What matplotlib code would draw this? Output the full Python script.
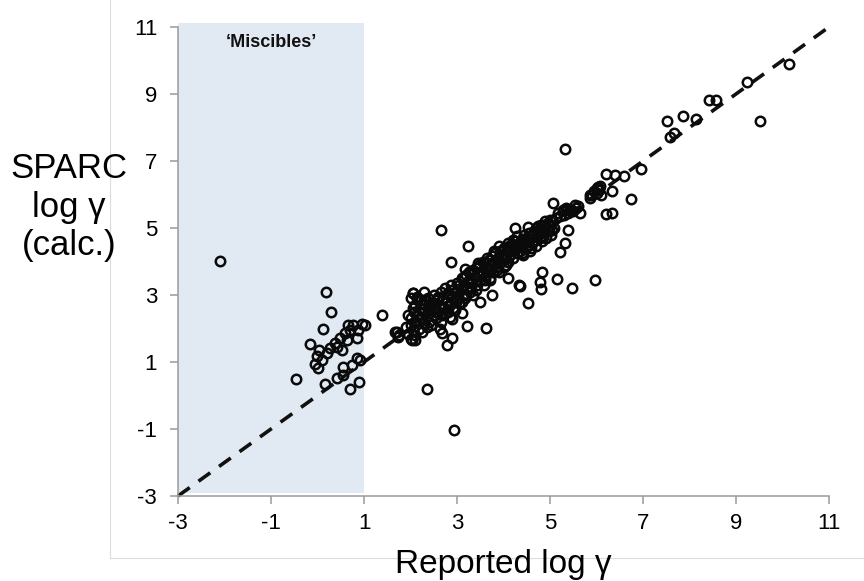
import numpy as np
import matplotlib.pyplot as plt
from matplotlib.patches import Rectangle
from matplotlib.lines import Line2D

plt.rcParams['font.family'] = ['Liberation Sans', 'DejaVu Sans']
plt.rcParams['axes.unicode_minus'] = False

# 'Miscibles' (reported log gamma <= 1)
misc_rep = [-2.10, -0.46, -0.16, -0.05, 0.02, 0.03, -0.02, 0.09, 0.18, 0.29, 0.125,
            0.16, 0.20, 0.27, 0.38, 0.41, 0.41, 0.48, 0.52, 0.55, 0.55, 0.59, 0.63,
            0.66, 0.70, 0.70, 0.735, 0.77, 0.84, 0.84, 0.88, 0.90, 0.91, 0.95, 1.02]
misc_calc = [4.01, 0.49, 1.53, 0.93, 0.81, 1.36, 1.18, 1.06, 3.08, 2.50, 1.98,
             0.33, 1.26, 1.41, 1.56, 0.53, 1.46, 1.71, 1.36, 0.61, 0.86, 1.86, 1.66,
             2.10, 1.96, 0.19, 0.91, 2.10, 1.11, 1.71, 1.96, 0.41, 1.06, 2.13, 2.10]

# dense band along the diagonal
band_rep = [1.38, 1.67, 1.74, 1.70, 1.75, 1.95, 2.00, 2.02, 2.05, 2.06, 2.08, 2.10, 2.12,
            2.13, 2.15, 2.18, 2.20, 2.22, 2.25, 2.28, 2.30, 2.32, 2.35, 2.38, 2.40,
            2.42, 2.45, 2.48, 2.50, 2.52, 2.55, 2.58, 2.60, 2.62, 2.65, 2.68, 2.70,
            2.72, 2.75, 2.78, 2.80, 2.82, 2.85, 2.88, 2.90, 2.92, 2.95, 2.98, 3.00,
            3.02, 3.05, 3.08, 3.10, 3.12, 3.15, 3.18, 3.20, 3.22, 3.25, 3.28, 3.30,
            3.32, 3.35, 3.38, 3.40, 3.42, 3.45, 3.48, 3.50, 3.55, 3.58, 3.60, 3.62,
            3.65, 3.68, 3.70, 3.72, 3.75, 3.78, 3.80, 3.82, 3.85, 3.88, 3.90, 3.92,
            3.95, 3.98, 4.00, 4.02, 4.05, 4.08, 4.10, 4.12, 4.15, 4.18, 4.20, 4.22,
            4.25, 4.28, 4.30, 4.35, 4.38, 4.40, 4.42, 4.45, 4.48, 4.50, 4.55, 4.58,
            4.60, 4.62, 4.65, 4.68, 4.70, 4.72, 4.75, 4.78, 4.80, 4.82, 4.85, 4.88,
            4.90, 4.92, 4.95, 4.98, 5.00, 5.02, 5.05, 5.08, 5.12, 5.18, 5.22, 5.28,
            5.30, 5.35, 5.38, 5.42, 5.50, 5.55, 5.60, 5.85, 5.90, 5.95, 6.00, 6.02,
            6.05, 6.08, 6.10]
band_calc = [2.40, 1.90, 1.76, 1.90, 1.80, 1.85, 2.10, 2.30, 1.95, 3.05, 2.50, 2.70, 2.20,
             2.90, 2.40, 2.00, 2.60, 2.85, 2.30, 2.15, 2.50, 2.70, 2.35, 2.90, 2.20,
             2.55, 2.75, 2.40, 3.00, 2.60, 2.30, 2.85, 2.50, 2.70, 3.10, 2.40, 2.90,
             2.60, 3.20, 2.80, 2.50, 3.00, 2.70, 3.30, 2.90, 2.60, 3.10, 2.80, 3.35,
             3.00, 2.75, 3.20, 3.50, 3.00, 3.30, 2.90, 3.60, 3.20, 3.45, 3.10, 3.70,
             3.35, 3.00, 3.55, 3.80, 3.30, 3.60, 3.90, 3.45, 3.70, 3.30, 3.95, 3.60,
             3.80, 4.05, 3.50, 3.90, 4.15, 3.70, 4.00, 4.25, 3.85, 4.10, 3.70, 4.30,
             4.00, 4.20, 3.85, 4.40, 4.10, 4.30, 4.00, 4.45, 4.20, 4.50, 4.10, 4.35,
             4.60, 4.25, 4.50, 4.30, 4.65, 4.45, 4.20, 4.55, 4.40, 4.70, 4.50, 4.30,
             4.75, 4.55, 4.90, 4.65, 4.45, 4.85, 5.05, 4.70, 4.95, 4.60, 5.10, 4.85,
             5.00, 4.70, 5.15, 4.90, 5.05, 4.80, 5.20, 5.00, 5.30, 5.45, 5.35, 5.55,
             5.40, 5.60, 5.45, 5.55, 5.50, 5.60, 5.65, 5.90, 6.00, 6.10, 6.05, 6.20,
             6.12, 6.25, 6.00]

# second row of the band (thickens it)
band2_rep = [1.90, 1.95, 2.00, 2.00, 2.05, 2.10, 2.10, 2.15, 2.20, 2.25, 2.30, 2.35,
             2.40, 2.45, 2.50, 2.55, 2.60, 2.65, 2.70, 2.75, 2.80, 2.85, 2.90, 2.95,
             3.00, 3.05, 3.10, 3.15, 3.20, 3.25, 3.30, 3.35, 3.40, 3.45, 3.50, 3.55,
             3.60, 3.65, 3.70, 3.75, 3.80, 3.85, 3.90, 3.95, 4.00, 4.05, 4.10, 4.15,
             4.20, 4.25, 4.30, 4.35, 4.40, 4.45, 4.50, 4.55, 4.60, 4.65, 4.70, 4.75,
             4.80, 4.85, 4.90, 4.95, 5.00, 5.05]
band2_calc = [2.05, 2.40, 1.70, 2.90, 2.60, 1.80, 1.65, 2.95, 2.30, 1.90, 2.85, 2.05,
              2.65, 2.10, 2.75, 2.50, 2.95, 2.20, 2.65, 2.45, 3.05, 2.35, 3.15, 2.55,
              2.90, 3.30, 2.80, 3.55, 3.00, 3.70, 3.25, 3.75, 3.15, 3.95, 3.65, 4.00,
              3.45, 4.10, 3.75, 3.95, 4.30, 3.75, 4.45, 4.15, 4.35, 3.90, 4.55, 4.35,
              4.65, 4.40, 4.75, 4.55, 4.25, 4.80, 4.60, 4.85, 4.40, 4.60, 5.00, 4.80,
              5.10, 4.75, 5.20, 4.95, 5.25, 4.95]

# scattered points off the band
off_rep = [2.06, 2.13, 2.28, 2.03, 2.35, 2.94, 2.78, 2.89, 2.63, 2.67, 2.89, 3.10,
           3.22, 3.62, 3.49, 3.76, 2.66, 3.24, 2.87, 3.17, 3.71, 4.10, 4.35, 4.34,
           4.53, 4.80, 4.78, 4.83, 5.14, 5.47, 5.97, 5.21, 5.32, 5.39, 4.25, 4.53,
           5.06, 5.36, 5.54, 5.65, 5.86, 6.20, 6.33, 6.34, 6.74, 6.04, 5.32, 6.20,
           6.40, 6.60, 6.96, 7.51, 7.58, 7.67, 7.85, 8.13, 8.42, 8.58, 9.24, 9.52,
           10.13]
off_calc = [3.05, 2.90, 3.10, 1.66, 0.19, -1.03, 1.51, 1.71, 2.00, 1.86, 2.27, 2.45,
            2.07, 2.02, 2.80, 3.00, 4.94, 4.46, 4.00, 3.77, 3.45, 3.50, 3.27, 3.30,
            2.75, 3.17, 3.40, 3.70, 3.48, 3.20, 3.45, 4.29, 4.56, 4.94, 4.99, 5.02,
            5.75, 5.54, 5.69, 5.45, 5.99, 5.42, 5.44, 6.10, 5.87, 6.21, 7.35, 6.61,
            6.58, 6.55, 6.75, 8.20, 7.71, 7.83, 8.35, 8.25, 8.82, 8.82, 9.35, 8.19,
            9.90]

reported = np.concatenate([misc_rep, band_rep, band2_rep, off_rep])
sparc = np.concatenate([misc_calc, band_calc, band2_calc, off_calc])

fig = plt.figure(figsize=(8.64, 5.81), dpi=100)
ax = fig.add_axes([178 / 864, 1 - 496 / 581, (829 - 178) / 864, (496 - 27) / 581])

# miscibles zone
ax.add_patch(Rectangle((-3, -2.91), 4, 14.03, facecolor='#e1e9f3', edgecolor='none',
                       zorder=0, clip_on=False))
ax.text(-1, 10.55, '\u2018Miscibles\u2019', ha='center', va='center',
        fontsize=13, fontweight='bold', color='#111111')

# 1:1 line
ax.plot([-3, 11], [-3, 11], color='#111111', lw=2.6, dashes=(4, 3), zorder=2,
        clip_on=False)

ax.plot(reported, sparc, 'o', ms=6.8, mfc='none', mec='#0a0a0a', mew=1.8, zorder=3,
        clip_on=False)

ax.set_xlim(-3, 11)
ax.set_ylim(-3, 11)
ax.set_xticks(np.arange(-3, 12, 2))
ax.set_yticks(np.arange(-3, 12, 2))
for s in ['top', 'right']:
    ax.spines[s].set_visible(False)
for s in ['left', 'bottom']:
    ax.spines[s].set_color('#9a9a9a')
    ax.spines[s].set_linewidth(1.1)
ax.tick_params(axis='x', direction='out', length=6, width=1.1, color='#9a9a9a',
               labelsize=16, pad=6)
ax.tick_params(axis='y', direction='out', length=6, width=1.1, color='#9a9a9a',
               labelsize=16, pad=9)
ax.patch.set_alpha(0)

fig.text(69 / 864, 1 - 207 / 581, 'SPARC\nlog \u03b3\n(calc.)', ha='center',
         va='center', fontsize=25, multialignment='center', linespacing=1.2)
fig.text(503 / 864, 1 - 573 / 581, 'Reported log \u03b3', ha='center',
         va='baseline', fontsize=24)

# faint chart-area border
fig.add_artist(Line2D([110 / 864, 110 / 864], [1 - 558 / 581, 1], color='#dcdcdc',
                      lw=0.8, transform=fig.transFigure))
fig.add_artist(Line2D([110 / 864, 1], [1 - 558 / 581, 1 - 558 / 581], color='#dcdcdc',
                      lw=0.8, transform=fig.transFigure, zorder=0))

fig.savefig('out.png', dpi=100)
